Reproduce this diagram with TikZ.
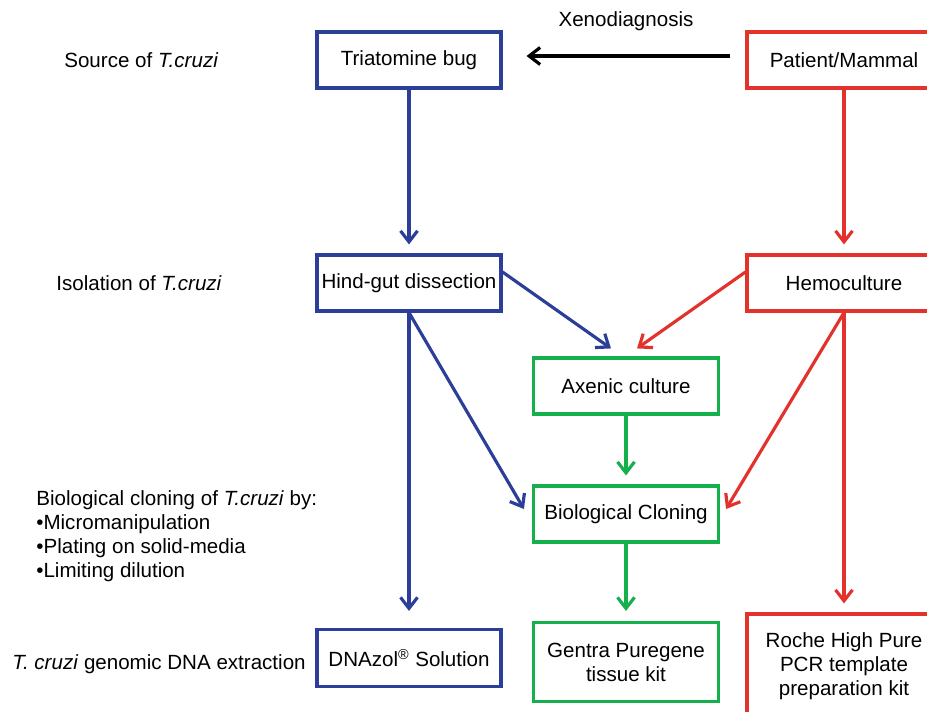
\documentclass[tikz,border=0pt]{standalone}
\usepackage{fontspec}
\setmainfont{Liberation Sans}
\usetikzlibrary{positioning,arrows.meta}
\definecolor{navy}{RGB}{43,63,153}
\definecolor{scarlet}{RGB}{227,50,43}
\definecolor{leaf}{RGB}{21,176,75}
\tikzset{
  box/.style={draw,line width=1.8pt,align=center,inner sep=0pt,minimum height=1.12cm},
  bugbox/.style={box,draw=navy,minimum width=3.68cm},
  hostbox/.style={box,draw=scarlet,minimum width=3.88cm},
  labbox/.style={box,draw=leaf,minimum width=3.7cm},
  flow/.style={-{Straight Barb[length=2.2mm,width=3.4mm]},line width=1.8pt},
  lbl/.style={anchor=west,align=left,inner sep=0pt},
}

\begin{document}
\begin{tikzpicture}[x=0.02cm,y=-0.02cm,font=\fontsize{11.7}{13.6}\selectfont]
  \useasboundingbox (0,0) rectangle (927,711);
  % steps on the left
  \node[lbl] (lsrc) at (64,60) {Source of \textit{T.cruzi}};
  \node[lbl] (liso) at (56,283) {Isolation of \textit{T.cruzi}};
  \node[lbl] (lclone) at (36,536) {Biological cloning of \textit{T.cruzi} by:\\\textbullet Micromanipulation\\\textbullet Plating on solid-media\\\textbullet Limiting dilution};
  \node[lbl] (ldna) at (12,664) {\textit{T. cruzi} genomic DNA extraction};
  % boxes
  \node[bugbox] (bug) at (409,60) {Triatomine bug};
  \node[hostbox] (host) at (844,60) {Patient/Mammal};
  \node[bugbox] (gut) at (409,283) {Hind-gut dissection};
  \node[hostbox] (hemo) at (844,283) {Hemoculture};
  \node[labbox] (axen) at (626,386) {Axenic culture};
  \node[labbox] (clone) at (626,514) {Biological Cloning};
  \node[bugbox,minimum height=1.14cm] (dnazol) at (409,658) {DNAzol\textsuperscript{\textregistered} Solution};
  \node[labbox,minimum height=1.58cm] (gentra) at (626,662) {Gentra Puregene\\tissue kit};
  \node[hostbox,minimum height=2.08cm] (roche) at (844,666) {Roche High Pure\\PCR template\\preparation kit};
  \node (xeno) at (626,21) {Xenodiagnosis};
  % arrows
  \draw[flow,shorten <=.3cm,shorten >=.48cm] ([yshift=.08cm]host.west) -- ([yshift=.08cm]bug.east);
  \draw[flow,navy,shorten >=.18cm] (bug) -- (gut);
  \draw[flow,scarlet,shorten >=.18cm] (host) -- (hemo);
  \draw[flow,navy] ([yshift=.22cm]gut.east) -- ([xshift=-.3cm,yshift=.16cm]axen.north);
  \draw[flow,scarlet] ([yshift=.22cm]hemo.west) -- ([xshift=.22cm,yshift=.16cm]axen.north);
  \draw[flow,navy,shorten >=.34cm] (gut) -- (dnazol);
  \draw[flow,navy] (gut.south) -- ([xshift=-.16cm,yshift=.1cm]clone.west);
  \draw[flow,scarlet] (hemo.south) -- ([xshift=.12cm,yshift=.1cm]clone.east);
  \draw[flow,scarlet,shorten >=.18cm] (hemo) -- (roche);
  \draw[flow,leaf,shorten >=.18cm] (axen) -- (clone);
  \draw[flow,leaf,shorten >=.2cm] (clone) -- (gentra);
\end{tikzpicture}
\end{document}
